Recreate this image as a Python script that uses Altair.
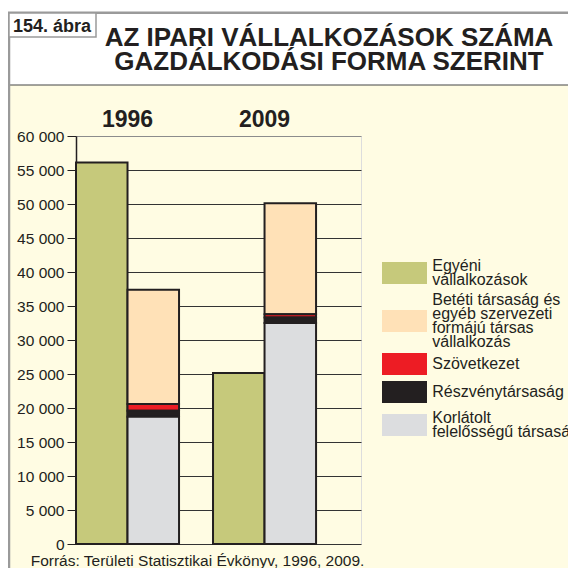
import altair as alt
import pandas as pd

# ---- data ----
years = ["1996", "2009"]
categories = [
    "Egyéni vállalkozások",
    "Betéti társaság és egyéb szervezeti formájú társas vállalkozás",
    "Szövetkezet",
    "Részvénytársaság",
    "Korlátolt felelősségű társaság",
]
legend_lines = [
    ["Egyéni", "vállalkozások"],
    ["Betéti társaság és", "egyéb szervezeti", "formájú társas", "vállalkozás"],
    ["Szövetkezet"],
    ["Részvénytársaság"],
    ["Korlátolt", "felelősségű társaság"],
]
values_1996 = [56100, 16800, 1000, 900, 18700]
values_2009 = [25150, 16300, 500, 800, 32500]
bar_group = ["a", "b", "b", "b", "b"]
stack_order = [0, 3, 2, 1, 0]
colors = ["#C6C97B", "#FFE1B7", "#ED1C24", "#231F20", "#DCDDDF"]
y_ticks = list(range(0, 60001, 5000))

rows = []
for yr, vals in zip(years, [values_1996, values_2009]):
    for cat, v, g, o in zip(categories, vals, bar_group, stack_order):
        rows.append({"year": yr, "type": cat, "value": v, "group": g, "order": o})
df = pd.DataFrame(rows)

FONT = "Liberation Sans"
INK = "#231F20"
LH = 14          # legend label line height
HALF = 11        # half of sqrt(symbol size)

parts = []
for cat, lines in zip(categories, legend_lines):
    arr = "[" + ",".join("'" + s + "'" for s in lines) + "]"
    parts.append(f"datum.label == '{cat}' ? {arr} : ")
label_expr = "".join(parts) + "datum.label"

# legend swatches: 45x22 rectangles, moved down to sit at the middle of multi-line labels
w = 22.5 / HALF
paths = []
for lines in legend_lines:
    dy = (len(lines) - 1) * LH / 2 / HALF
    paths.append(f"M{-w:.3f},{-1 + dy:.3f}H{w:.3f}V{1 + dy:.3f}H{-w:.3f}Z")

legend = alt.Legend(
    title=None, orient="none", legendX=316.5, legendY=118,
    symbolSize=(2 * HALF) ** 2,
    symbolStrokeColor="#555555", symbolStrokeWidth=1.5, symbolOpacity=1,
    labelFontSize=16, labelColor=INK, labelFont=FONT, labelOffset=15.75,
    labelLimit=400, rowPadding=0, padding=0, labelExpr=label_expr,
)

xenc = alt.X(
    "year:N",
    scale=alt.Scale(domain=years, paddingInner=0.248, paddingOuter=0.164, align=0),
    axis=alt.Axis(
        orient="top", title=None, labelAngle=0, ticks=False, tickSize=0,
        domain=False, grid=False, labelFontSize=23, labelFontWeight="bold",
        labelColor=INK, labelPadding=5, labelFont=FONT,
    ),
)
xoff = alt.XOffset("group:N", scale=alt.Scale(paddingInner=0, paddingOuter=0))
yscale = alt.Scale(domain=[0, 60000], nice=False)
yaxis = alt.Axis(
    title=None, values=y_ticks,
    labelExpr="replace(format(datum.value, ','), ',', ' ')",
    labelFontSize=15.5, labelColor=INK, labelFont=FONT, labelPadding=3,
    tickSize=9, tickColor=INK, tickWidth=1,
    domainColor=INK, domainWidth=1.5,
    grid=True, gridWidth=1,
    gridColor={"condition": {"test": "datum.value == 60000", "value": "#8C8C8C"},
               "value": "#333333"},
)
cscale = alt.Scale(domain=categories, range=colors)

base = alt.Chart(df).transform_stack(
    stack="value",
    as_=["y0", "y1"],
    groupby=["year", "group"],
    sort=[alt.SortField("order", "ascending")],
)

bars = base.mark_bar(stroke=INK, strokeWidth=2).encode(
    x=xenc,
    xOffset=xoff,
    y=alt.Y("y0:Q", scale=yscale, axis=yaxis),
    y2="y1:Q",
    color=alt.Color("type:N", scale=cscale, legend=None),
)

# legend carrier: tiny transparent points hidden under the bars
keys = base.transform_calculate(mid="(datum.y0 + datum.y1) / 2").mark_point(
    filled=True, size=1, opacity=0
).encode(
    x=xenc,
    xOffset=xoff,
    y=alt.Y("mid:Q", scale=yscale, axis=yaxis),
    color=alt.Color("type:N", scale=cscale, legend=legend),
    shape=alt.Shape("type:N", scale=alt.Scale(domain=categories, range=paths), legend=legend),
)

one = alt.Data(values=[{"k": 1}])

white_top = alt.Chart(one).mark_rect(color="white").encode(
    x=alt.value(-68), x2=alt.value(492), y=alt.value(-128), y2=alt.value(-51)
)
sep = alt.Chart(one).mark_rule(color="#444444", strokeWidth=1).encode(
    x=alt.value(-67), x2=alt.value(492), y=alt.value(-51)
)
top_frame = alt.Chart(one).mark_rule(color="#9A9A9A", strokeWidth=2.5).encode(
    x=alt.value(-68), x2=alt.value(492), y=alt.value(-123.3)
)
left_frame = alt.Chart(one).mark_rule(color="#9A9A9A", strokeWidth=2.5).encode(
    x=alt.value(-67), y=alt.value(-124), y2=alt.value(432)
)
box = alt.Chart(one).mark_rect(fill="white", stroke="#9A9A9A", strokeWidth=1.5).encode(
    x=alt.value(-67), x2=alt.value(20), y=alt.value(-123), y2=alt.value(-99)
)
box_text = alt.Chart(one).mark_text(
    align="left", baseline="alphabetic", fontSize=18, fontWeight="bold", font=FONT, color=INK
).encode(x=alt.value(-63), y=alt.value(-104.5), text=alt.value("154. ábra"))
title1 = alt.Chart(one).mark_text(
    align="center", baseline="alphabetic", fontSize=26, fontWeight="bold", font=FONT, color=INK
).encode(x=alt.value(253), y=alt.value(-90.5), text=alt.value("AZ IPARI VÁLLALKOZÁSOK SZÁMA"))
title2 = alt.Chart(one).mark_text(
    align="center", baseline="alphabetic", fontSize=26, fontWeight="bold", font=FONT, color=INK
).encode(x=alt.value(253), y=alt.value(-66.5), text=alt.value("GAZDÁLKODÁSI FORMA SZERINT"))
source = alt.Chart(one).mark_text(
    align="left", baseline="alphabetic", fontSize=15.5, font=FONT, color=INK
).encode(x=alt.value(-45.3), y=alt.value(429.5),
         text=alt.value("Forrás: Területi Statisztikai Évkönyv, 1996, 2009."))

chart = (
    alt.layer(white_top, sep, top_frame, left_frame, box, box_text, title1, title2, source,
              keys, bars)
    .properties(
        width=285, height=408,
        autosize=alt.AutoSizeParams(type="none"),
        padding={"left": 68, "top": 128, "right": 207, "bottom": 24},
        background="#FFFCE3",
    )
    .configure_view(fill="#F0F4D7", stroke="#8C8C8C", strokeWidth=1.5)
    .configure(font=FONT, style={"guide-label": {"lineHeight": LH}})
)

chart.save("out.html", embed_options={"renderer": "svg", "actions": False})
